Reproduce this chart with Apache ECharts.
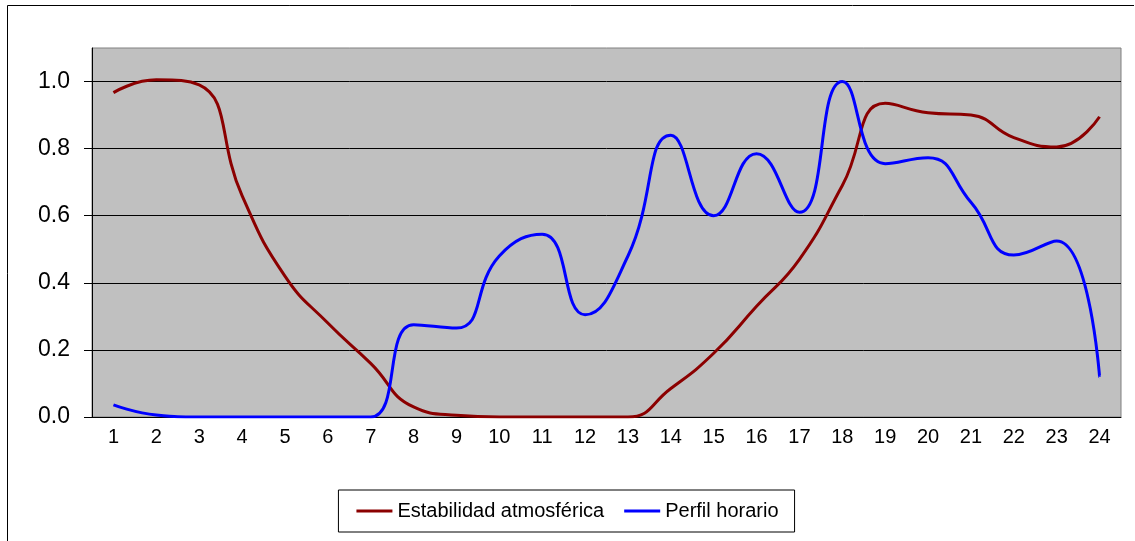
<!DOCTYPE html>
<html>
<head>
<meta charset="utf-8">
<script src="https://cdn.jsdelivr.net/npm/echarts@6/dist/echarts.min.js"></script>
<style>
  html, body { margin: 0; padding: 0; background: #fff; }
  #chart { width: 1135px; height: 541px; }
</style>
</head>
<body>
<div id="chart"></div>
<script>
// horas del día
const horas = ['1','2','3','4','5','6','7','8','9','10','11','12','13','14','15','16','17','18','19','20','21','22','23','24'];
// valores
const estabilidad = [0.967, 1.005, 0.99, 0.66, 0.42, 0.28, 0.16, 0.03, 0.005, 0, 0, 0, 0, 0.085, 0.19, 0.33, 0.47, 0.69, 0.935, 0.907, 0.90, 0.833, 0.805, 0.895];
const perfil = [0.036, 0.006, 0, 0, 0, 0, 0, 0.275, 0.265, 0.48, 0.545, 0.305, 0.48, 0.84, 0.60, 0.785, 0.61, 1.0, 0.755, 0.773, 0.64, 0.483, 0.525, 0.12];
const yTicks = [0, 0.2, 0.4, 0.6, 0.8, 1.0];

const chart = echarts.init(document.getElementById('chart'));
const fuente = 'Liberation Sans, Arial, sans-serif';

chart.setOption({
  backgroundColor: '#fff',
  animation: false,
  graphic: [
    {
      type: 'polyline',
      shape: { points: [[7.5, 545], [7.5, 5.5], [1134, 5.5]] },
      style: { stroke: '#000', lineWidth: 1, fill: null }
    }
  ],
  grid: {
    left: 92,
    right: 14,
    top: 48,
    bottom: 124,
    show: true,
    backgroundColor: '#c0c0c0',
    borderColor: '#808080',
    borderWidth: 1
  },
  legend: {
    left: 'center',
    top: 490,
    padding: [11, 16, 11, 18],
    borderColor: '#000',
    borderWidth: 1,
    itemGap: 20,
    itemWidth: 36,
    itemHeight: 3,
    icon: 'rect',
    textStyle: { fontFamily: fuente, fontSize: 20, color: '#000' },
    data: ['Estabilidad atmosférica', 'Perfil horario']
  },
  xAxis: {
    type: 'category',
    data: horas,
    boundaryGap: true,
    axisLine: { lineStyle: { color: '#000', width: 1 } },
    axisTick: { length: 6, lineStyle: { color: '#000' } },
    axisLabel: { color: '#000', fontFamily: fuente, fontSize: 20, margin: 10 },
    splitLine: { show: false }
  },
  yAxis: {
    type: 'value',
    min: 0,
    max: 1.1,
    interval: 0.2,
    axisLine: { show: true, lineStyle: { color: '#000', width: 1 } },
    axisTick: { show: true, length: 8, customValues: yTicks, lineStyle: { color: '#000' } },
    axisLabel: {
      color: '#000', fontFamily: fuente, fontSize: 23, margin: 22,
      customValues: yTicks,
      formatter: v => v.toFixed(1)
    },
    splitLine: {
      show: true,
      lineStyle: { color: ['#000', '#000', '#000', '#000', '#000', '#000', '#808080'], width: 1 }
    }
  },
  series: [
    {
      name: 'Estabilidad atmosférica',
      type: 'line',
      data: estabilidad,
      smooth: 0.5,
      showSymbol: false,
      symbol: 'none',
      lineStyle: { color: '#8b0000', width: 3 },
      itemStyle: { color: '#8b0000' }
    },
    {
      name: 'Perfil horario',
      type: 'line',
      data: perfil,
      smooth: 0.5,
      showSymbol: false,
      symbol: 'none',
      lineStyle: { color: '#0000ff', width: 3 },
      itemStyle: { color: '#0000ff' }
    }
  ]
});
</script>
</body>
</html>
